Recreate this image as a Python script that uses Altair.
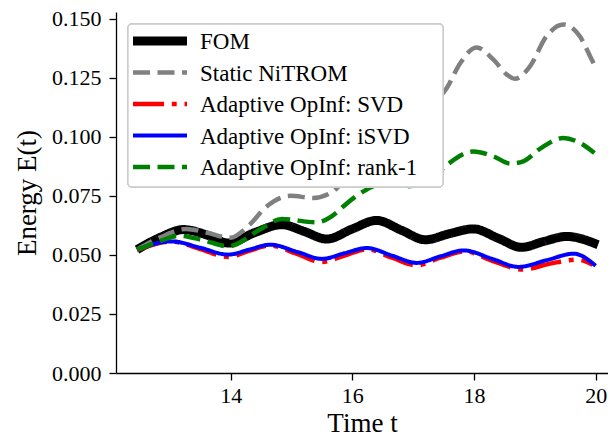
import altair as alt
import pandas as pd

FONT = "Liberation Serif, Times New Roman, serif"

series_names = ["FOM", "Static NiTROM", "Adaptive OpInf: SVD",
                "Adaptive OpInf: iSVD", "Adaptive OpInf: rank-1"]

fom_t = [12.46, 12.85, 13.22, 13.6, 13.96, 14.4, 14.84, 15.2, 15.58, 16.0, 16.40,
         16.8, 17.2, 17.6, 17.99, 18.4, 18.78, 19.15, 19.52, 20.04]
fom_e = [0.0522, 0.0575, 0.0607, 0.0585, 0.0550, 0.0595, 0.0628, 0.0600, 0.0567, 0.0610,
         0.0646, 0.0605, 0.0564, 0.0590, 0.0610, 0.0570, 0.0532, 0.0557, 0.0578, 0.0543]

static_t = [12.46, 12.85, 13.27, 13.6, 13.99, 14.3, 14.59, 14.98, 15.36, 15.69, 16.13,
            16.51, 16.95, 17.33, 17.55, 17.77, 18.04, 18.32, 18.54, 18.67, 18.92, 19.19,
            19.47, 19.74, 19.91, 19.99]
static_e = [0.0522, 0.0575, 0.0610, 0.0595, 0.0572, 0.0625, 0.0705, 0.0750, 0.0741, 0.0770,
            0.0931, 0.1030, 0.1072, 0.1143, 0.1205, 0.1310, 0.1378, 0.1326, 0.1263, 0.1245,
            0.1298, 0.1425, 0.1475, 0.1425, 0.1340, 0.1298]

svd_t = [12.46, 13.03, 13.5, 13.96, 14.3, 14.65, 15.1, 15.5, 15.87, 16.24, 16.65, 17.06,
         17.45, 17.85, 18.3, 18.8, 19.25, 19.7, 19.95]
svd_e = [0.0520, 0.0556, 0.0525, 0.0491, 0.0517, 0.0540, 0.0503, 0.0470, 0.0497, 0.0524,
         0.0488, 0.0456, 0.0488, 0.0515, 0.0475, 0.0438, 0.0463, 0.0480, 0.0458]

isvd_t = [12.46, 13.03, 13.5, 13.96, 14.3, 14.65, 15.1, 15.5, 15.87, 16.24, 16.65, 17.06,
          17.45, 17.83, 18.3, 18.73, 19.2, 19.64, 20.0]
isvd_e = [0.0522, 0.0557, 0.0530, 0.0501, 0.0522, 0.0543, 0.0512, 0.0483, 0.0507, 0.0529,
          0.0497, 0.0466, 0.0494, 0.0519, 0.0483, 0.0449, 0.0478, 0.0505, 0.0454]

rank1_t = [12.46, 12.8, 13.15, 13.55, 13.96, 14.48, 14.84, 15.4, 15.74, 15.85, 16.23,
           16.51, 16.89, 17.22, 17.55, 17.99, 18.32, 18.6, 18.81, 19.1, 19.47, 19.74, 19.98]
rank1_e = [0.0522, 0.0555, 0.0581, 0.0562, 0.0536, 0.0607, 0.0652, 0.0638, 0.0679, 0.0705,
           0.0776, 0.0804, 0.0790, 0.0804, 0.0880, 0.0938, 0.0917, 0.0886, 0.0896, 0.0952,
           0.0995, 0.0974, 0.0931]

colors = ["#000000", "#808080", "#ff0000", "#0000ff", "#008000"]
dashes = [[1, 0], [17, 7.5], [31, 7.8, 4.9, 7.8], [1, 0], [17, 7.5]]
widths = [9, 4.5, 4.5, 4, 4.5]

rows = []
for i, (name, ts, es) in enumerate(zip(series_names,
                                       [fom_t, static_t, svd_t, isvd_t, rank1_t],
                                       [fom_e, static_e, svd_e, isvd_e, rank1_e])):
    for t, e in zip(ts, es):
        rows.append({"series": name, "order": i, "t": t, "E": e})
df = pd.DataFrame(rows)
legend_df = pd.DataFrame({"series": series_names})

color_enc = alt.Color("series:N", scale=alt.Scale(domain=series_names, range=colors), legend=None)
dash_enc = alt.StrokeDash("series:N", scale=alt.Scale(type="ordinal", domain=series_names, range=dashes), legend=None)
width_enc = alt.StrokeWidth("series:N", scale=alt.Scale(type="ordinal", domain=series_names, range=widths), legend=None)

axis_common = dict(labelFont=FONT, labelFontSize=22, labelColor="black",
                   titleFont=FONT, titleFontSize=27, titleFontWeight="normal",
                   titleColor="black", grid=False, domainColor="black", domainWidth=1.3,
                   tickColor="black", tickWidth=1.3, tickSize=7)

lines = alt.Chart(df).mark_line(interpolate="monotone", clip=True).encode(
    x=alt.X("t:Q", scale=alt.Scale(domain=[12.114, 20.203], nice=False, zero=False),
            axis=alt.Axis(values=[14, 16, 18, 20], format="d", title="Time t",
                          titlePadding=4, labelPadding=5, **axis_common)),
    y=alt.Y("E:Q", scale=alt.Scale(domain=[0, 0.1528], nice=False),
            axis=alt.Axis(values=[0, 0.025, 0.05, 0.075, 0.1, 0.125, 0.15], format=".3f",
                          title="Energy E(t)", titlePadding=10, labelPadding=8, **axis_common)),
    color=color_enc, strokeDash=dash_enc, strokeWidth=width_enc,
    order=alt.Order("order:Q"),
    detail="series:N",
)

# legend (drawn as layers on top of the lines)
row_scale = alt.Scale(type="point", domain=series_names, range=[29, 155], padding=0)
leg_y = alt.Y("series:N", scale=row_scale, axis=None)

legend_box = alt.Chart(legend_df).mark_rect(
    fill="white", fillOpacity=0.8, stroke="#cccccc", strokeWidth=1.3, cornerRadius=4
).encode(x=alt.value(12), x2=alt.value(327), y=alt.value(12), y2=alt.value(175))

legend_symbols = alt.Chart(legend_df).mark_rule().encode(
    x=alt.value(17), x2=alt.value(71), y=leg_y,
    color=color_enc, strokeDash=dash_enc, strokeWidth=width_enc,
)

legend_labels = alt.Chart(legend_df).mark_text(
    align="left", baseline="middle", font=FONT, fontSize=23, color="black", dy=1
).encode(x=alt.value(84), y=leg_y, text="series:N")

chart = alt.layer(lines, legend_box, legend_symbols, legend_labels).resolve_scale(
    y="independent"
).properties(
    width=492, height=361,
    padding={"left": 116, "top": 12, "right": 0, "bottom": 69},
    autosize=alt.AutoSizeParams(type="none"),
).configure(font=FONT).configure_view(stroke=None)

chart.save("out.html", embed_options={"renderer": "svg", "actions": False})
